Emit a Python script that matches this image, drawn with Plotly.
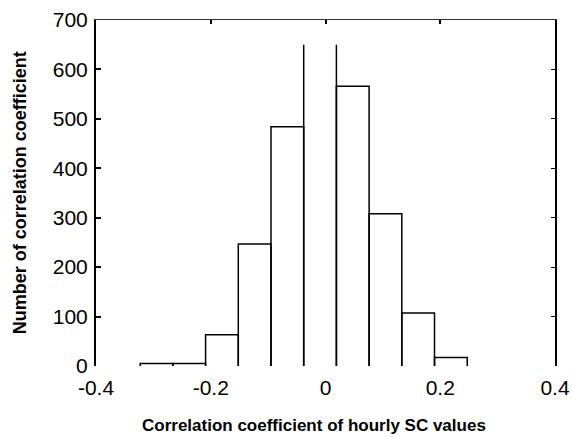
import plotly.graph_objects as go

# Histogram of correlation coefficients (bin edges and counts per bin)
bin_edges = [-0.323, -0.266, -0.209, -0.152, -0.095, -0.038, 0.019, 0.076, 0.133, 0.190, 0.247]
counts = [5, 5, 63, 247, 484, 650, 566, 308, 107, 17]
# the peak bin is drawn truncated (open top)
truncated = [False, False, False, False, False, True, False, False, False, False]

x_ticks = [-0.4, -0.2, 0, 0.2, 0.4]
x_tick_text = ["-0.4", "-0.2", "0", "0.2", "0.4"]
y_ticks = [0, 100, 200, 300, 400, 500, 600, 700]

x_range = [-0.4, 0.4]
y_range = [0, 700]

x_title = "Correlation coefficient of hourly SC values"
y_title = "Number of correlation coefficient"

# outline path of each bin
ox, oy = [], []
for i, c in enumerate(counts):
    left, right = bin_edges[i], bin_edges[i + 1]
    if truncated[i]:
        ox += [left, left, None, right, right, None]
        oy += [0, c, None, c, 0, None]
    else:
        ox += [left, left, right, right, None]
        oy += [0, c, c, 0, None]

fig = go.Figure()
fig.add_trace(go.Scatter(
    x=ox, y=oy, mode="lines",
    line=dict(color="black", width=1.5),
    connectgaps=False, showlegend=False, hoverinfo="skip",
))
# invisible trace to activate the mirrored top/right axes
fig.add_trace(go.Scatter(x=[None], y=[None], xaxis="x2", yaxis="y2", showlegend=False))

tick_font = dict(family="Liberation Sans, Arial, sans-serif", size=21, color="black")
title_font = dict(family="Liberation Sans Narrow, Arial Narrow, Liberation Sans, Arial, sans-serif",
                  size=17, color="black")
y_title_font = dict(title_font, size=18)

fig.update_layout(
    width=572, height=437,
    margin=dict(l=96, r=17, t=20, b=71),
    paper_bgcolor="white", plot_bgcolor="white",
    xaxis=dict(
        range=x_range, tickvals=x_ticks, ticktext=x_tick_text,
        showline=False, ticks="", showgrid=False, zeroline=False,
        tickfont=tick_font, ticklabelstandoff=7, automargin=False,
    ),
    yaxis=dict(
        range=y_range, tickvals=y_ticks,
        showline=True, linecolor="black", linewidth=2,
        ticks="inside", ticklen=5, tickwidth=1.5, tickcolor="black",
        showgrid=False, zeroline=False,
        tickfont=tick_font, ticklabelstandoff=2, automargin=False,
    ),
    xaxis2=dict(
        range=x_range, tickvals=x_ticks, overlaying="x", side="top",
        showline=True, linecolor="#333", linewidth=1,
        ticks="inside", ticklen=4, tickwidth=1.5, tickcolor="black",
        showticklabels=False, showgrid=False, zeroline=False, automargin=False,
    ),
    yaxis2=dict(
        range=y_range, tickvals=y_ticks, overlaying="y", side="right",
        showline=True, linecolor="black", linewidth=2,
        ticks="inside", ticklen=4, tickwidth=1, tickcolor="black",
        showticklabels=False, showgrid=False, zeroline=False, automargin=False,
    ),
    annotations=[
        dict(text="<b>" + x_title + "</b>", xref="paper", yref="paper",
             x=0.475, y=-0.173, xanchor="center", yanchor="middle",
             showarrow=False, font=title_font),
        dict(text="<b>" + y_title + "</b>", xref="paper", yref="paper",
             x=-0.165, y=0.5, xanchor="center", yanchor="middle", textangle=-90,
             showarrow=False, font=y_title_font),
    ],
)

fig.write_html("out.html")
